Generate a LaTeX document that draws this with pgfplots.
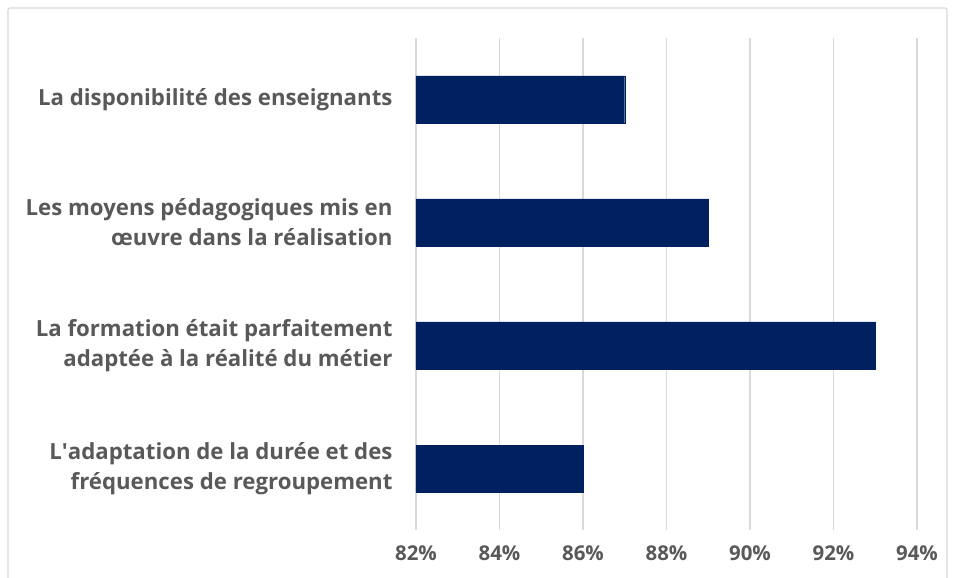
\documentclass[border=0pt]{standalone}
\usepackage{pgfplots}
\pgfplotsset{compat=1.18}
\usepackage{fontspec}
\setmainfont{Open Sans}
\definecolor{barblue}{HTML}{002060}
\definecolor{txtgray}{HTML}{595959}
\definecolor{gridgray}{HTML}{D9D9D9}
\begin{document}
\begin{tikzpicture}[x=1bp,y=1bp]
\path[use as bounding box] (-416,-48) rectangle (539,530);
\draw[gridgray, line width=1.2bp, rounded corners=2bp] (-408,-60) rectangle (531,522);
\begin{axis}[
  at={(0,0)}, anchor=south west,
  scale only axis, width=501bp, height=492bp,
  xbar, bar width=47bp,
  xmin=82, xmax=94, xtick={82,84,...,94},
  ymin=-0.5, ymax=3.5, ytick={0,1,2,3},
  y dir=reverse,
  yticklabels={La disponibilité des enseignants,
    {Les moyens pédagogiques mis en\\œuvre dans la réalisation},
    {La formation était parfaitement\\adaptée à la réalité du métier},
    {L\textquotesingle adaptation de la durée et des\\fréquences de regroupement}},
  yticklabel style={align=right, font=\fontsize{22.3}{30}\selectfont\bfseries, text=txtgray, xshift=-20bp},
  xticklabel style={font=\fontsize{20.5}{24}\selectfont\bfseries, text=txtgray, yshift=-12bp},
  xticklabel={\pgfmathprintnumber{\tick}\%},
  /pgf/number format/assume math mode=true,
  axis line style={draw=none},
  major tick length=0pt,
  xmajorgrids, grid style={gridgray, line width=1.2bp},
  clip=true,
]
\addplot[fill=barblue, draw=barblue] coordinates {(87,0) (89,1) (93,2) (86,3)};
\end{axis}
\end{tikzpicture}
\end{document}
